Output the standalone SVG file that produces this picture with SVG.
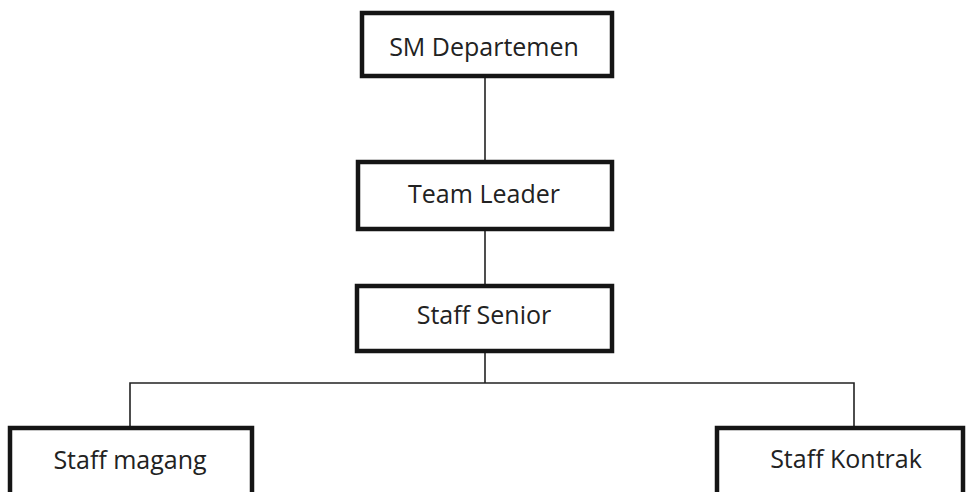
<svg xmlns="http://www.w3.org/2000/svg" width="971" height="492" viewBox="0 0 971 492">
<style>
.box{fill:#fff;stroke:#151515;stroke-width:4.5}
.lbl{font-family:"Open Sans","Liberation Sans",sans-serif;font-size:25px;fill:#222;text-anchor:middle}
.ln{stroke:#222;stroke-width:1.6;fill:none}
</style>
<rect width="971" height="492" fill="#fff"/>
<g id="connectors">
<line class="ln" x1="485" y1="77" x2="485" y2="162"/>
<line class="ln" x1="485" y1="229" x2="485" y2="286"/>
<line class="ln" x1="485" y1="351" x2="485" y2="383"/>
<polyline class="ln" points="130,428 130,383 854,383 854,428"/>
</g>
<g id="sm-departemen">
<rect class="box" x="362" y="13" width="250" height="63"/>
<text class="lbl" x="484" y="56">SM Departemen</text>
</g>
<g id="team-leader">
<rect class="box" x="358" y="162" width="254" height="67"/>
<text class="lbl" x="484" y="203">Team Leader</text>
</g>
<g id="staff-senior">
<rect class="box" x="357" y="286" width="255" height="65"/>
<text class="lbl" x="484" y="324">Staff Senior</text>
</g>
<g id="staff-magang">
<rect class="box" x="10" y="428" width="242" height="80"/>
<text class="lbl" x="130" y="469">Staff magang</text>
</g>
<g id="staff-kontrak">
<rect class="box" x="717" y="428" width="246" height="80"/>
<text class="lbl" x="846" y="468">Staff Kontrak</text>
</g>
</svg>
